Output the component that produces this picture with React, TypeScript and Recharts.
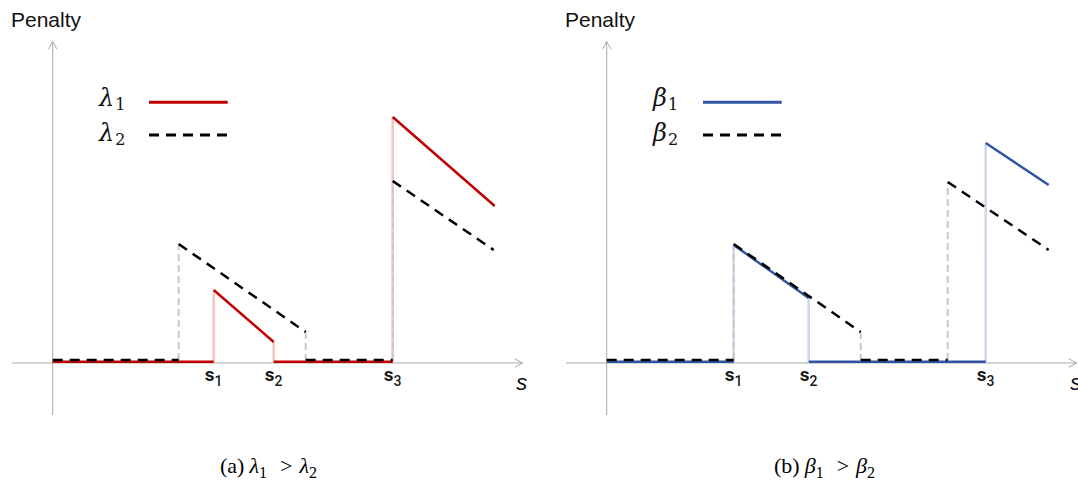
import React from 'react';
import { LineChart, Line, XAxis, YAxis, ReferenceLine, ReferenceDot, Legend } from 'recharts';

type Pt = [number, number];
type Seg = Pt[];

// Axis domains (units: penalty / s, origin at the axes crossing)
const X_DOMAIN: [number, number] = [-4.07, 47.0];
const Y_DOMAIN: [number, number] = [-5.2, 32.13];

// ---------- Panel (a): lambda1 > lambda2 ----------
const A_TICKS = [16.1, 22.1, 34.0]; // s1, s2, s3
const LAMBDA1_SEGMENTS: Seg[] = [
  [[0, 0.13], [16.1, 0.13]],
  [[16.1, 7.3], [22.1, 2.1]],
  [[22.1, 0.13], [34.0, 0.13]],
  [[34.0, 24.6], [44.2, 15.7]],
];
const LAMBDA1_JUMPS: Seg[] = [
  [[16.1, 0.13], [16.1, 7.3]],
  [[22.1, 2.1], [22.1, 0.13]],
  [[34.0, 0.13], [34.0, 24.6]],
];
const LAMBDA2_SEGMENTS: Seg[] = [
  [[0, 0.3], [12.6, 0.3]],
  [[12.6, 11.9], [25.3, 3.1]],
  [[25.3, 0.3], [34.0, 0.3]],
  [[34.0, 18.2], [44.1, 11.3]],
];
const LAMBDA2_JUMPS: Seg[] = [
  [[12.6, 0.3], [12.6, 11.9]],
  [[25.3, 3.1], [25.3, 0.3]],
  [[34.0, 0.3], [34.0, 18.2]],
];

// ---------- Panel (b): beta1 > beta2 ----------
const B_TICKS = [12.7, 20.2, 37.9];
const BETA1_SEGMENTS: Seg[] = [
  [[0, 0.13], [12.7, 0.13]],
  [[12.7, 11.8], [20.2, 6.5]],
  [[20.2, 0.13], [37.9, 0.13]],
  [[37.9, 22.0], [44.2, 17.8]],
];
const BETA1_JUMPS: Seg[] = [
  [[12.7, 0.13], [12.7, 11.8]],
  [[20.2, 6.5], [20.2, 0.13]],
  [[37.9, 0.13], [37.9, 22.0]],
];
const BETA2_SEGMENTS: Seg[] = [
  [[0, 0.3], [12.7, 0.3]],
  [[12.7, 11.9], [25.4, 3.1]],
  [[25.4, 0.3], [34.1, 0.3]],
  [[34.1, 18.1], [44.2, 11.3]],
];
const BETA2_JUMPS: Seg[] = [
  [[12.7, 0.3], [12.7, 11.9]],
  [[25.4, 3.1], [25.4, 0.3]],
  [[34.1, 0.3], [34.1, 18.1]],
];

const AXIS_COLOR = '#a9a9a9';
const GRAY_DASH = '#c8c8c8';
const DASH = '10 7';

function toSeries(segs: Seg[]) {
  const out: { x: number; y: number | null }[] = [];
  segs.forEach((s, i) => {
    if (i > 0) out.push({ x: s[0][0], y: null });
    s.forEach(([x, y]) => out.push({ x, y }));
  });
  return out;
}

const XAxisEnd = (props: any) => {
  const vb = props.viewBox || {};
  const tx = vb.x + vb.width;
  const ty = vb.y;
  return (
    <g>
      <polyline points={`${tx - 8},${ty - 4.3} ${tx},${ty} ${tx - 8},${ty + 4.3}`} fill="none" stroke={AXIS_COLOR} strokeWidth={1} />
      <text x={tx - 1} y={ty + 27} textAnchor="middle" fontFamily="'Liberation Sans', Arial, sans-serif" fontStyle="italic" fontSize={22} fill="#111">s</text>
    </g>
  );
};

const YAxisEnd = (props: any) => {
  const vb = props.viewBox || {};
  const tx = vb.x;
  const ty = vb.y;
  return (
    <g>
      <polyline points={`${tx - 4.3},${ty + 7.5} ${tx},${ty} ${tx + 4.3},${ty + 7.5}`} fill="none" stroke={AXIS_COLOR} strokeWidth={1} />
      <text x={tx - 41.7} y={ty - 15} fontFamily="'Liberation Sans', Arial, sans-serif" fontSize={21} fill="#111">Penalty</text>
    </g>
  );
};

const TickLabel = (props: any) => {
  const vb = props.viewBox || {};
  const cx = vb.x + (vb.width || 0) / 2;
  const cy = vb.y + (vb.height || 0) / 2;
  return (
    <text x={cx} y={cy + 18} textAnchor="middle" fontFamily="Roboto, sans-serif" fontWeight={700} fontSize={19} fill="#1a1a1a">
      s<tspan fontSize={14} fontWeight={500} dy={4.7}>{props.sub}</tspan>
    </text>
  );
};

type Name = { greek: string; sub: string };

const makeLegend = (names: Name[], colors: string[]) => () => (
  <svg width={150} height={80} style={{ display: 'block' }}>
    {names.map((n, i) => (
      <g key={i}>
        <text x={4} y={26 + 35 * i} fontFamily="'DejaVu Serif', serif" fontSize={24} fontStyle="italic" fill="#111">
          {n.greek}
          <tspan fontStyle="normal" fontSize={16} dy={4} dx={1}>{n.sub}</tspan>
        </text>
        <line x1={54} x2={132.7} y1={22.3 + 32.7 * i} y2={22.3 + 32.7 * i} stroke={colors[i]} strokeWidth={3} strokeDasharray={i === 1 ? DASH : undefined} />
      </g>
    ))}
  </svg>
);

const Caption = ({ tag, greek }: { tag: string; greek: string }) => (
  <svg width={540} height={35} style={{ position: 'absolute', left: 0, top: 445 }}>
    <text x={220} y={28} fontFamily="'Liberation Serif', 'Times New Roman', serif" fontSize={22} fill="#000">
      ({tag})
      <tspan dx={5} fontStyle="italic">{greek}</tspan>
      <tspan fontSize={16} dy={5}>1</tspan>
      <tspan dx={13} dy={-5}>&gt;</tspan>
      <tspan dx={7} fontStyle="italic">{greek}</tspan>
      <tspan fontSize={16} dy={5}>2</tspan>
    </text>
  </svg>
);

type PanelProps = {
  left: number;
  main: Seg[];
  mainJumps: Seg[];
  dashed: Seg[];
  dashedJumps: Seg[];
  color: string;
  jumpColor: string;
  ticks: number[];
  names: Name[];
  tag: string;
};

const Panel = ({ left, main, mainJumps, dashed, dashedJumps, color, jumpColor, ticks, names, tag }: PanelProps) => (
  <div style={{ position: 'absolute', left, top: 0, width: 540, height: 480 }}>
    <LineChart width={540} height={480} margin={{ top: 41.7, right: 17.3, bottom: 65, left: 12 }}>
      <XAxis type="number" dataKey="x" domain={X_DOMAIN} allowDataOverflow hide />
      <YAxis type="number" domain={Y_DOMAIN} allowDataOverflow hide />
      <ReferenceLine y={0} stroke={AXIS_COLOR} strokeWidth={1} label={<XAxisEnd />} />
      <ReferenceLine x={0} stroke={AXIS_COLOR} strokeWidth={1} label={<YAxisEnd />} />
      <Line data={toSeries(mainJumps)} dataKey="y" stroke={jumpColor} strokeWidth={2.5} dot={false} activeDot={false} legendType="none" isAnimationActive={false} />
      <Line data={toSeries(dashedJumps)} dataKey="y" stroke={GRAY_DASH} strokeWidth={2} strokeDasharray="7 4" dot={false} activeDot={false} legendType="none" isAnimationActive={false} />
      <Line data={toSeries(main)} dataKey="y" name={names[0].greek + names[0].sub} stroke={color} strokeWidth={2.5} dot={false} activeDot={false} isAnimationActive={false} />
      <Line data={toSeries(dashed)} dataKey="y" name={names[1].greek + names[1].sub} stroke="#000" strokeWidth={2.5} strokeDasharray={DASH} dot={false} activeDot={false} isAnimationActive={false} />
      {ticks.map((t, i) => (
        <ReferenceDot key={i} x={t} y={0} r={0} fill="none" stroke="none" label={<TickLabel sub={String(i + 1)} />} />
      ))}
      <Legend
        layout="vertical"
        align="center"
        verticalAlign="middle"
        content={makeLegend(names, [color, '#000'])}
        wrapperStyle={{ left: 95, top: 80, width: 150, height: 80 }}
      />
    </LineChart>
    <Caption tag={tag} greek={names[0].greek} />
  </div>
);

export default function App() {
  return (
    <div style={{ position: 'absolute', left: 0, top: 0, width: 1078, height: 480, overflow: 'hidden', background: '#fff' }}>
      <Panel
        left={0}
        main={LAMBDA1_SEGMENTS}
        mainJumps={LAMBDA1_JUMPS}
        dashed={LAMBDA2_SEGMENTS}
        dashedJumps={LAMBDA2_JUMPS}
        color="#c00000"
        jumpColor="#f3c4c4"
        ticks={A_TICKS}
        names={[{ greek: 'λ', sub: '1' }, { greek: 'λ', sub: '2' }]}
        tag="a"
      />
      <Panel
        left={553.6}
        main={BETA1_SEGMENTS}
        mainJumps={BETA1_JUMPS}
        dashed={BETA2_SEGMENTS}
        dashedJumps={BETA2_JUMPS}
        color="#2f55a3"
        jumpColor="#cdd8ea"
        ticks={B_TICKS}
        names={[{ greek: 'β', sub: '1' }, { greek: 'β', sub: '2' }]}
        tag="b"
      />
    </div>
  );
}
